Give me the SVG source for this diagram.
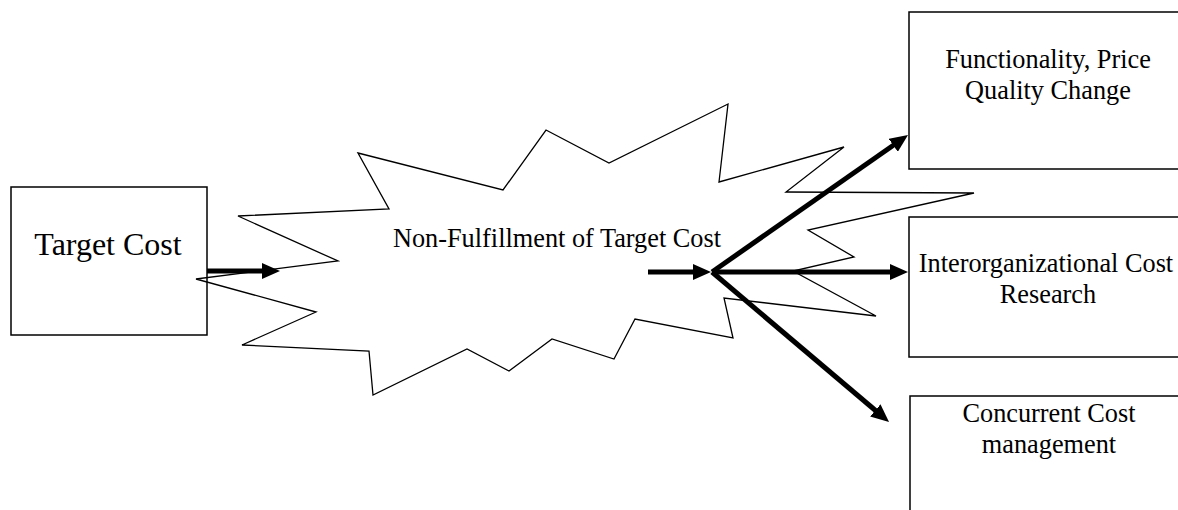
<svg xmlns="http://www.w3.org/2000/svg" width="1178" height="510" viewBox="0 0 1178 510">
<style>
.box{fill:none;stroke:#000;stroke-width:1.5}
.lbl{font-family:"Liberation Serif","Times New Roman",serif;fill:#000;text-anchor:middle;font-size:26.3px}
.arr{stroke:#000;stroke-width:5;fill:none;marker-end:url(#ah)}
.burst{fill:none;stroke:#000;stroke-width:1.3;stroke-linejoin:miter}
</style>
<defs>
<marker id="ah" markerUnits="userSpaceOnUse" viewBox="0 0 18 16" markerWidth="18" markerHeight="16" refX="8" refY="8" orient="auto">
<path d="M0,0 L18,8 L0,16 z" fill="#000"/>
</marker>
</defs>
<rect width="1178" height="510" fill="#fff"/>
<g id="burst">
<polygon class="burst" points="358,153 503,190 546,130 609,163 728,104 719,182 844,147 786,192 974,193 808,230 854,257 793,271 876,316 724,298 733,338 635,319 614,359 552,339 509,371 467,349 373,395 369,351 242,345 316,312 196,279 338,261 238,216 389,209"/>
<text class="lbl" x="557" y="247">Non-Fulfillment of Target Cost</text>
</g>
<g id="target">
<rect class="box" x="11" y="187" width="196" height="148"/>
<text class="lbl" x="108" y="255" style="font-size:32px">Target Cost</text>
</g>
<g id="func">
<rect class="box" x="909" y="12" width="280" height="157"/>
<text class="lbl" x="1048" y="68">Functionality, Price</text>
<text class="lbl" x="1048" y="99">Quality Change</text>
</g>
<g id="inter">
<rect class="box" x="909" y="217" width="280" height="140"/>
<text class="lbl" x="1046" y="272">Interorganizational Cost</text>
<text class="lbl" x="1048" y="303">Research</text>
</g>
<g id="concurrent">
<rect class="box" x="910" y="396" width="280" height="130"/>
<text class="lbl" x="1049" y="422">Concurrent Cost</text>
<text class="lbl" x="1049" y="453">management</text>
</g>
<g id="connectors">
<line class="arr" x1="207" y1="271" x2="270" y2="271"/>
<line class="arr" x1="648" y1="272" x2="701" y2="272"/>
<line class="arr" x1="712" y1="272" x2="899.8" y2="140.7"/>
<line class="arr" x1="712" y1="272" x2="898" y2="272"/>
<line class="arr" x1="712" y1="272" x2="881.4" y2="415.5"/>
</g>
</svg>
